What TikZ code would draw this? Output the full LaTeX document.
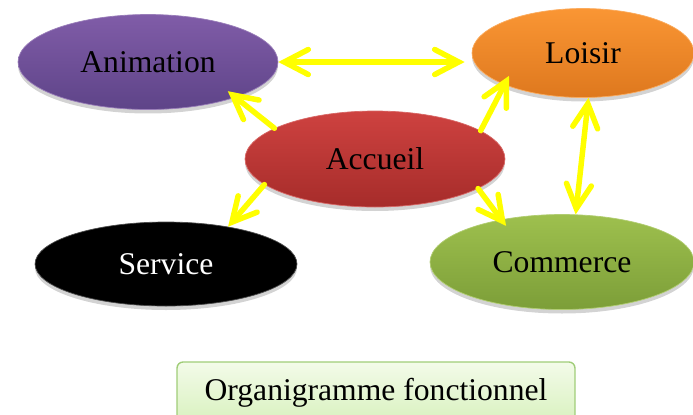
\documentclass[tikz,border=0pt]{standalone}
\usepackage{fontspec}
\setmainfont{Liberation Serif}
\usetikzlibrary{shapes, arrows.meta, positioning, shapes.geometric, shadows}
\definecolor{animtop}{RGB}{128, 92, 168}
\definecolor{animbot}{RGB}{94, 68, 136}
\definecolor{loisirtop}{RGB}{250, 150, 52}
\definecolor{loisirbot}{RGB}{222, 120, 30}
\definecolor{acctop}{RGB}{206, 66, 64}
\definecolor{accbot}{RGB}{166, 44, 42}
\definecolor{comtop}{RGB}{158, 192, 78}
\definecolor{combot}{RGB}{124, 158, 56}
\definecolor{boxtop}{RGB}{243, 251, 233}
\definecolor{boxbot}{RGB}{216, 241, 190}
\definecolor{boxline}{RGB}{160, 205, 120}
\definecolor{arrowyellow}{RGB}{255, 255, 0}

\begin{document}
\begin{tikzpicture}[
  x=0.02cm, y=-0.02cm,
  every node/.style={font=\fontsize{18}{22}\selectfont},
  bubble/.style={ellipse, top color=#1top, bottom color=#1bot, draw=#1top!80!white,
                 line width=0.4pt, drop shadow={opacity=0.35, shadow xshift=0pt, shadow yshift=-0.08cm}},
  arr/.style={-{Straight Barb[length=0.48cm, width=0.5cm, line cap=round]}, line width=0.11cm,
              line cap=round, arrowyellow},
  darr/.style={{Straight Barb[length=0.48cm, width=0.5cm, line cap=round]}-{Straight Barb[length=0.48cm, width=0.5cm, line cap=round]},
               line width=0.11cm, line cap=round, arrowyellow}
]
\useasboundingbox (0,0) rectangle (693,414);

\node[bubble=anim,   minimum width=5.2cm,  minimum height=1.9cm]  (anim)   at (148,62)  {Animation};
\node[bubble=loisir, minimum width=4.44cm, minimum height=1.78cm] (loisir) at (583,53)  {Loisir};
\node[bubble=acc,    minimum width=5.2cm,  minimum height=1.92cm] (acc)    at (375,159) {Accueil};
\node[ellipse, fill=black, draw=black!70, minimum width=5.24cm, minimum height=1.68cm,
      drop shadow={opacity=0.35, shadow xshift=0pt, shadow yshift=-0.08cm},
      text=white] (serv) at (166,264) {Service};
\node[bubble=com,    minimum width=5.28cm, minimum height=1.9cm]  (com)    at (562,262) {Commerce};

\node[rectangle, rounded corners=0.12cm, top color=boxtop, bottom color=boxbot, draw=boxline,
      line width=0.8pt, minimum width=7.96cm, minimum height=1.24cm] (title) at (376,393)
      {Organigramme fonctionnel};

\draw[darr] (anim.east) -- (anim.east -| loisir.west) [shorten >=0.14cm];
\draw[arr, shorten >=-0.2cm] (acc.163) -- (anim.-22);
\draw[arr, shorten >=-0.2cm] (acc.15) -- (loisir.202);
\draw[arr] (acc.193) -- (serv.31);
\draw[arr, shorten >=-0.16cm] (acc.-16) -- (com.145);
\draw[darr] (loisir.-83) -- (com.74);
\end{tikzpicture}
\end{document}
